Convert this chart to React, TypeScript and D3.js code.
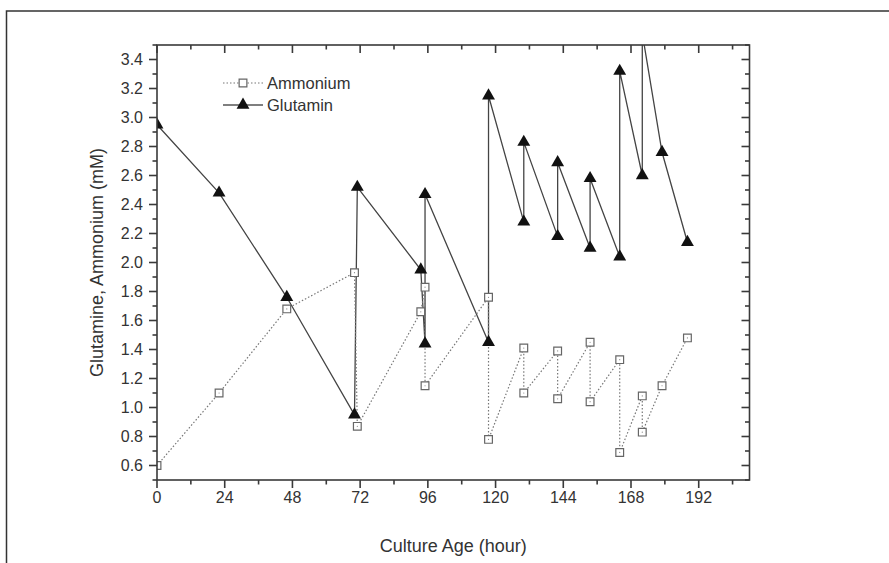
import { useRef, useEffect } from "react";
import * as d3 from "d3";

// culture age (hour) and concentrations (mM)
const ammoniumHours = [0, 22, 46, 70, 71, 93.5, 95, 95, 117.5, 117.5, 130, 130, 142, 142, 153.5, 153.5, 164, 164, 172, 172, 179, 188];
const ammoniumValues = [0.6, 1.1, 1.68, 1.93, 0.87, 1.66, 1.83, 1.15, 1.76, 0.78, 1.41, 1.1, 1.39, 1.06, 1.45, 1.04, 1.33, 0.69, 1.08, 0.83, 1.15, 1.48];

const glutaminHours = [0, 22, 46, 70, 71, 93.5, 95, 95, 117.5, 117.5, 130, 130, 142, 142, 153.5, 153.5, 164, 164, 172, 172, 179, 188];
const glutaminValues = [2.95, 2.48, 1.76, 0.95, 2.52, 1.95, 1.44, 2.47, 1.45, 3.15, 2.28, 2.83, 2.18, 2.69, 2.1, 2.58, 2.04, 3.32, 2.6, 3.58, 2.76, 2.14];

const xTicks = [0, 24, 48, 72, 96, 120, 144, 168, 192];
const xMinorTicks = [12, 36, 60, 84, 108, 132, 156, 180, 204];
const yTicks = [0.6, 0.8, 1.0, 1.2, 1.4, 1.6, 1.8, 2.0, 2.2, 2.4, 2.6, 2.8, 3.0, 3.2, 3.4];
const yMinorTicks = [0.5, 0.7, 0.9, 1.1, 1.3, 1.5, 1.7, 1.9, 2.1, 2.3, 2.5, 2.7, 2.9, 3.1, 3.3, 3.5];

type Pt = [number, number];

const App: React.FC = () => {
    const svgRef = useRef<SVGSVGElement | null>(null);

    useEffect(() => {
        if (!svgRef.current) return;
        const width = 889;
        const height = 563;
        const left = 157;
        const right = 749.5;
        const top = 45;
        const bottom = 480;
        const axisColor = "#3a3a3a";
        const font = "'Liberation Sans', Arial, sans-serif";

        const x = d3.scaleLinear().domain([0, 210]).range([left, right]);
        const y = d3.scaleLinear().domain([0.5, 3.5]).range([bottom, top]);

        const svg = d3.select(svgRef.current);
        svg.selectAll("*").remove();
        svg.attr("width", width).attr("height", height);

        // outer frame
        svg.append("rect")
            .attr("x", 6.5)
            .attr("y", 11)
            .attr("width", 900)
            .attr("height", 600)
            .attr("fill", "none")
            .attr("stroke", "#333")
            .attr("stroke-width", 1.5);

        svg.append("clipPath")
            .attr("id", "plot-clip")
            .append("rect")
            .attr("x", left)
            .attr("y", top)
            .attr("width", right - left)
            .attr("height", bottom - top);

        const plot = svg.append("g").attr("clip-path", "url(#plot-clip)");
        const line = d3.line<Pt>().x((d) => x(d[0])).y((d) => y(d[1]));

        const glut: Pt[] = glutaminHours.map((h, i) => [h, glutaminValues[i]]);
        const amm: Pt[] = ammoniumHours.map((h, i) => [h, ammoniumValues[i]]);

        plot.append("path")
            .attr("d", line(glut))
            .attr("fill", "none")
            .attr("stroke", "#444")
            .attr("stroke-width", 1.3);

        plot.append("path")
            .attr("d", line(amm))
            .attr("fill", "none")
            .attr("stroke", "#777")
            .attr("stroke-width", 1.2)
            .attr("stroke-dasharray", "1.5,2");

        const tri = d3.symbol().type(d3.symbolTriangle).size(72);
        const sq = d3.symbol().type(d3.symbolSquare).size(60);

        plot.selectAll("path.glut")
            .data(glut)
            .join("path")
            .attr("class", "glut")
            .attr("d", tri())
            .attr("transform", (d) => `translate(${x(d[0])},${y(d[1])})`)
            .attr("fill", "#111");

        const ammG = plot.selectAll("g.amm")
            .data(amm)
            .join("g")
            .attr("class", "amm")
            .attr("transform", (d) => `translate(${x(d[0])},${y(d[1])})`);
        ammG.append("path")
            .attr("d", sq())
            .attr("fill", "#fff")
            .attr("stroke", "#666")
            .attr("stroke-width", 1.2);
        ammG.append("circle").attr("r", 0.6).attr("fill", "#888");

        // axes
        const ax = svg.append("g").attr("stroke", axisColor).attr("stroke-width", 1.6);
        ax.append("rect")
            .attr("x", left)
            .attr("y", top)
            .attr("width", right - left)
            .attr("height", bottom - top)
            .attr("fill", "none");

        const major = 8;
        const minor = 4.5;
        xTicks.forEach((t) => {
            ax.append("line").attr("x1", x(t)).attr("x2", x(t)).attr("y1", bottom).attr("y2", bottom + major);
            ax.append("line").attr("x1", x(t)).attr("x2", x(t)).attr("y1", top).attr("y2", top + major);
        });
        xMinorTicks.forEach((t) => {
            ax.append("line").attr("x1", x(t)).attr("x2", x(t)).attr("y1", bottom).attr("y2", bottom + minor);
            ax.append("line").attr("x1", x(t)).attr("x2", x(t)).attr("y1", top).attr("y2", top + minor);
        });
        yTicks.forEach((t) => {
            ax.append("line").attr("x1", left - major).attr("x2", left).attr("y1", y(t)).attr("y2", y(t));
            ax.append("line").attr("x1", right - major).attr("x2", right).attr("y1", y(t)).attr("y2", y(t));
        });
        yMinorTicks.forEach((t) => {
            ax.append("line").attr("x1", left - minor).attr("x2", left).attr("y1", y(t)).attr("y2", y(t));
            ax.append("line").attr("x1", right - minor).attr("x2", right).attr("y1", y(t)).attr("y2", y(t));
        });

        const labels = svg.append("g")
            .attr("font-family", font)
            .attr("font-size", 16)
            .attr("fill", "#333");
        labels.selectAll("text.xl")
            .data(xTicks)
            .join("text")
            .attr("class", "xl")
            .attr("x", (d) => x(d))
            .attr("y", 503)
            .attr("text-anchor", "middle")
            .text((d) => String(d));
        labels.selectAll("text.yl")
            .data(yTicks)
            .join("text")
            .attr("class", "yl")
            .attr("x", 143)
            .attr("y", (d) => y(d) + 5.8)
            .attr("text-anchor", "end")
            .text((d) => d.toFixed(1));

        svg.append("text")
            .attr("x", (left + right) / 2)
            .attr("y", 552)
            .attr("text-anchor", "middle")
            .attr("font-family", font)
            .attr("font-size", 18)
            .attr("fill", "#333")
            .text("Culture Age (hour)");

        svg.append("text")
            .attr("transform", `translate(103,${(top + bottom) / 2}) rotate(-90)`)
            .attr("text-anchor", "middle")
            .attr("font-family", font)
            .attr("font-size", 18)
            .attr("fill", "#333")
            .text("Glutamine, Ammonium (mM)");

        // legend
        const lg = svg.append("g").attr("font-family", font).attr("font-size", 16.5).attr("fill", "#333");
        const row1 = 83;
        const row2 = 105;
        lg.append("line").attr("x1", 223).attr("x2", 263).attr("y1", row1).attr("y2", row1)
            .attr("stroke", "#777").attr("stroke-width", 1.2).attr("stroke-dasharray", "1.5,2");
        lg.append("path").attr("d", sq()).attr("transform", `translate(243,${row1})`)
            .attr("fill", "#fff").attr("stroke", "#666").attr("stroke-width", 1.2);
        lg.append("text").attr("x", 267).attr("y", row1 + 6).text("Ammonium");
        lg.append("line").attr("x1", 223).attr("x2", 263).attr("y1", row2).attr("y2", row2)
            .attr("stroke", "#555").attr("stroke-width", 1.3);
        lg.append("path").attr("d", tri()).attr("transform", `translate(243,${row2})`).attr("fill", "#111");
        lg.append("text").attr("x", 267).attr("y", row2 + 6).text("Glutamin");
    }, []);

    return <svg ref={svgRef} style={{ position: "absolute", left: 0, top: 0, background: "#fff" }} />;
};

export default App;
